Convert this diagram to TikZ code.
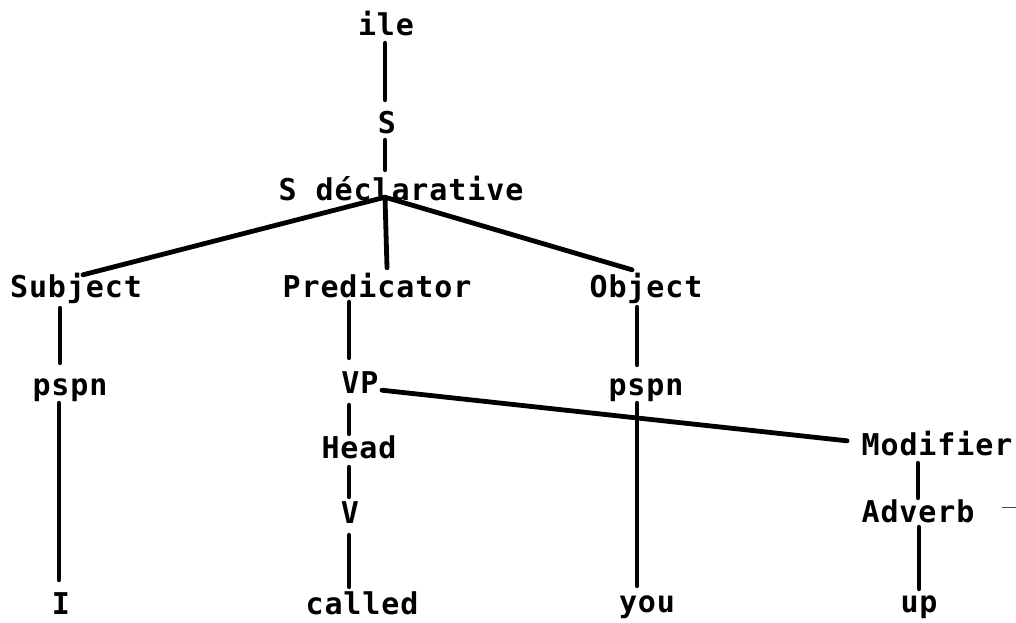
\documentclass[tikz,border=0pt]{standalone}
\usepackage{fontspec}
\newfontfamily\dotfont[LetterSpace=3]{DejaVu Sans Mono Bold}
\begin{document}
\begin{tikzpicture}[x=1pt,y=-1pt,
  lbl/.style={anchor=base,inner sep=0pt,text height=22pt,text depth=0pt,
    font=\dotfont\fontsize{30}{36}\selectfont},
  edge/.style={line width=4.8pt,line cap=round},
  faint/.style={line width=0.9pt,draw=black!70}]
\useasboundingbox (0,0) rectangle (1016,622);
% nodes (x = centre, y = baseline)
\node[lbl] (ile)    at (386,35)  {ile};
\node[lbl] (s)      at (387,133) {S};
\node[lbl] (sdecl)  at (401,200) {S déclarative};
\node[lbl] (subj)   at (76,297)  {Subject};
\node[lbl] (pred)   at (377,297) {Predicator};
\node[lbl] (obj)    at (646,297) {Object};
\node[lbl] (pspnA)  at (70,395)  {pspn};
\node[lbl] (vp)     at (360,393) {VP};
\node[lbl] (pspnB)  at (646,395) {pspn};
\node[lbl] (head)   at (359,458) {Head};
\node[lbl] (mod)    at (937,455) {Modifier};
\node[lbl] (v)      at (350,523) {V};
\node[lbl] (adv)    at (918,522) {Adverb};
\node[lbl] (wI)     at (61,614)  {I};
\node[lbl] (called) at (362,614) {called};
\node[lbl] (you)    at (647,612) {you};
\node[lbl] (up)     at (919,612) {up};
% apex below "S déclarative"
\coordinate (apex) at ([shift={(-16,-3)}]sdecl.south);
\coordinate (edgeR) at (1016,507);
% connectors
\draw[edge] ([shift={(-1,8)}]ile.south) -- ([shift={(-2,-11)}]s.north);
\draw[edge] ([shift={(-2,7)}]s.south) -- ([shift={(-16,-8)}]sdecl.north);
\draw[edge] (apex) -- ([shift={(7,0)}]subj.north);
\draw[edge] (apex) -- ([shift={(10,-7)}]pred.north);
\draw[edge] (apex) -- ([shift={(-14,-5)}]obj.north);
\draw[edge] ([shift={(-16,11)}]subj.south) -- ([shift={(-10,-10)}]pspnA.north);
\draw[edge] ([shift={(-11,8)}]pspnA.south) -- ([shift={(-2,-12)}]wI.north);
\draw[edge] ([shift={(-28,5)}]pred.south) -- ([shift={(-11,-13)}]vp.north);
\draw[edge] ([shift={(-11,12)}]vp.south) -- ([shift={(-10,-2)}]head.north);
\draw[edge] ([shift={(-10,9)}]head.south) -- ([shift={(-1,-4)}]v.north);
\draw[edge] ([shift={(-1,12)}]v.south) -- ([shift={(-13,-5)}]called.north);
\draw[edge] ([shift={(-9,10)}]obj.south) -- ([shift={(-9,-8)}]pspnB.north);
\draw[edge] ([shift={(-9,8)}]pspnB.south) -- ([shift={(-10,-4)}]you.north);
\draw[edge] ([shift={(22,-3)}]vp.south) -- ([shift={(-90,8)}]mod.north);
\draw[edge] ([shift={(-19,8)}]mod.south) -- ([shift={(0,-2)}]adv.north);
\draw[edge] ([shift={(1,5)}]adv.south) -- ([shift={(0,-1)}]up.north);
\draw[faint] ([xshift=-14pt]edgeR) -- (edgeR);
\end{tikzpicture}
\end{document}
